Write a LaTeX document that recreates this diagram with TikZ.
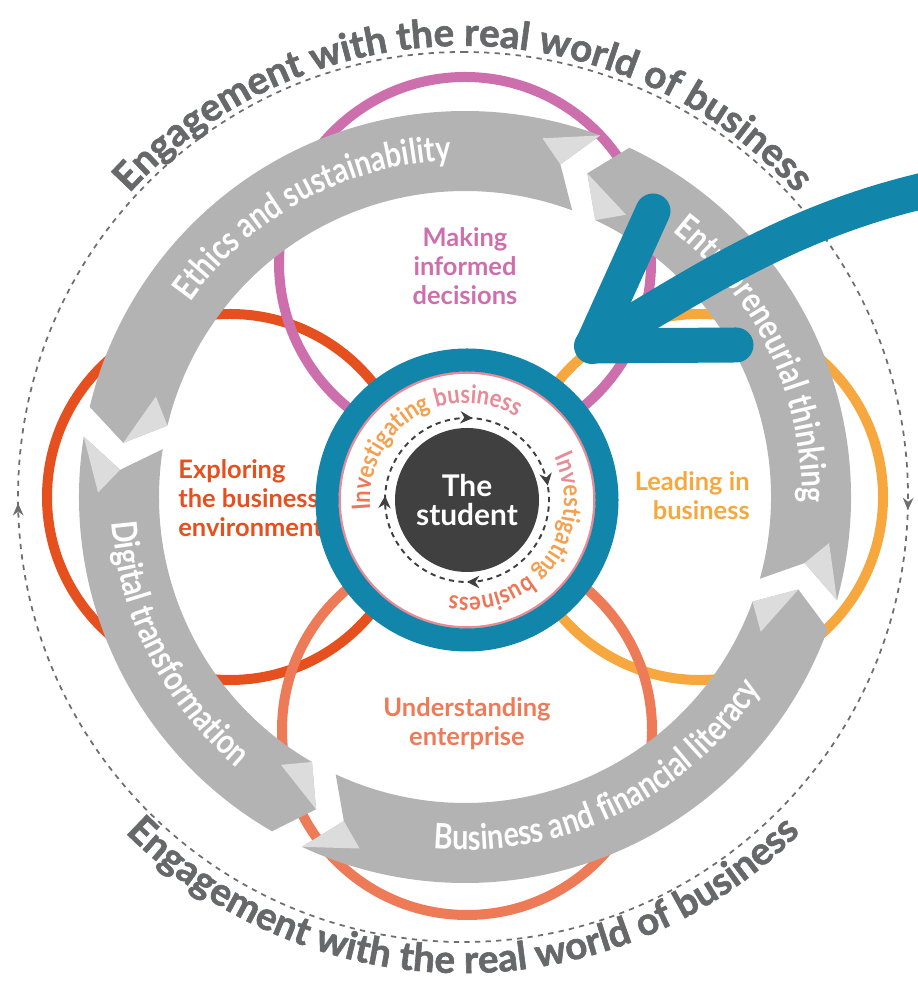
\documentclass[tikz,border=0pt]{standalone}
\usepackage{fontspec}
\setmainfont{Lato}
\newfontfamily\bandfont[FakeStretch=0.82]{Lato}
\newfontfamily\invfamily[FakeStretch=0.86]{Lato}
\newfontfamily\engfamily[FakeBold=1.6]{Lato}
\usetikzlibrary{calc,arrows.meta,decorations.text,decorations.markings}
\definecolor{ringteal}{HTML}{1186AA}
\definecolor{bandgrey}{HTML}{B3B3B3}
\definecolor{foldgrey}{HTML}{DCDCDC}
\definecolor{enggrey}{HTML}{67686A}
\definecolor{dashgrey}{HTML}{6E6E6E}
\definecolor{discgrey}{HTML}{404040}
\definecolor{mkpink}{HTML}{CD6FAD}
\definecolor{exred}{HTML}{E5501E}
\definecolor{ldorange}{HTML}{F6A83F}
\definecolor{unsalmon}{HTML}{EE7B58}
\definecolor{invA}{HTML}{EE7656}
\definecolor{invB}{HTML}{F4A04E}
\definecolor{invC}{HTML}{E98A97}
\newcommand\engfont{\engfamily\bfseries\fontsize{22}{26}\selectfont}
\newcommand\bandlbl{\bandfont\bfseries\fontsize{20}{24}\selectfont}
\newcommand\invfont{\invfamily\bfseries\fontsize{14.5}{17}\selectfont}
\tikzset{
  theme/.style={draw=#1, line width=0.2cm},
  band/.style={fill=bandgrey},
  fold/.style={fill=foldgrey},
  themelabel/.style={font=\bfseries\fontsize{14.5}{16.5}\selectfont, text=#1, inner sep=0pt},
  bandtext/.style={decorate, decoration={text along path, text align=center, text color=white, text={|\bandlbl|#1}}},
  engtext/.style={decorate, decoration={text along path, text align=center, text color=enggrey, text={|\engfont|#1}}},
  invtext/.style={decorate, decoration={text along path, text align=center, text={#1}}},
  outerdash/.style={dashgrey, line width=1pt, dash pattern=on 3pt off 3pt},
  innerdash/.style={discgrey, line width=1.1pt, dash pattern=on 3pt off 2.5pt},
}

\begin{document}
\begin{tikzpicture}[x=0.02cm, y=0.02cm]
    \useasboundingbox (0,0) rectangle (917,982);
    \coordinate (C) at (465,485);
    \coordinate (S) at (467,482);
    \coordinate (D) at (463,485);

    \draw[outerdash, postaction={decorate, decoration={markings,
        mark=at position 0.2547 with {\arrow{Stealth[length=7pt,width=6pt]}},
        mark=at position 0.7478 with {\arrow{Stealth[length=7pt,width=6pt]}}}}]
        (D) ++(90:445) arc[start angle=90, end angle=-270, radius=445];
    \path[engtext={Engagement with the real world of business}]
        (D) ++(160:451) arc[start angle=160, end angle=20, radius=451];
    \path[engtext={Engagement with the real world of business}]
        (D) ++(205:476) arc[start angle=205, end angle=335, radius=476];

    \draw[theme=exred] (230,485) circle[radius=183];
    \draw[theme=ldorange] (700,485) circle[radius=183];
    \draw[theme=mkpink] (465,719) circle[radius=186];
    \draw[theme=unsalmon] (467,252) circle[radius=185];

    \begin{scope}[shift={(C)}]
        \foreach \c/\d in {69.5/166.5, 171/240, 245/340, 344.5/424.8} {
            \fill[band] (\c:386) arc[start angle=\c, end angle=\d, radius=386]
                -- ({\d+4.5}:346) -- (\d:306)
                arc[start angle=\d, end angle=\c, radius=306] -- ({\c+4.5}:346) -- cycle;
            \fill[fold] ({\c+4.5}:346) -- (\c:386) -- ({\c+8.3}:367) -- cycle;
            \fill[fold] ({\d-4.5}:325) -- (\d:306) -- ({\d+4.5}:346) -- cycle;
        }
        \path[bandtext={Ethics and sustainability}] (175:337) arc[start angle=175, end angle=62, radius=337];
        \path[bandtext={Entrepreneurial thinking}] (82:337) arc[start angle=82, end angle=-31, radius=337];
        \path[bandtext={Business and financial literacy}] (-121:353) arc[start angle=-121, end angle=-7, radius=353];
        \path[bandtext={Digital transformation}] (150:354) arc[start angle=150, end angle=264, radius=354];
    \end{scope}

    \node[themelabel=mkpink, align=center] (making) at (465,716) {Making\\informed\\decisions};
    \node[themelabel=exred, align=left, anchor=west] (exploring) at (178,484) {Exploring\\the business\\environment};
    \node[themelabel=ldorange, align=right, anchor=east] (leading) at (750,486) {Leading in\\business};
    \node[themelabel=unsalmon, align=center] (understanding) at (467,258) {Understanding\\enterprise};

    \fill[white] (S) circle[radius=129];
    \draw[invC, line width=1.5] (S) circle[radius=127.5];
    \draw[ringteal, line width=0.46cm] (S) circle[radius=140];

    \path[invtext={|\invfont\color{invA}|Inv|\invfont\color{invB}|estigating |\invfont\color{invC}|business}]
        (S) ++(202.5:97) arc[start angle=202.5, end angle=42.5, radius=97];
    \path[invtext={|\invfont\color{invC}|Inv|\invfont\color{invB}|estigating |\invfont\color{invA}|business}]
        (S) ++(43:97) arc[start angle=43, end angle=-117, radius=97];
    \draw[innerdash, postaction={decorate, decoration={markings,
        mark=at position 0.011 with {\arrow{Stealth[length=7pt,width=7pt]}},
        mark=at position 0.222 with {\arrow{Stealth[length=7pt,width=7pt]}},
        mark=at position 0.5 with {\arrow{Stealth[length=7pt,width=7pt]}},
        mark=at position 0.758 with {\arrow{Stealth[length=7pt,width=7pt]}}}}]
        (S) ++(90:82) arc[start angle=90, end angle=-270, radius=82];
    \fill[discgrey] (S) circle[radius=72];
    \node[font=\bfseries\fontsize{17}{17}\selectfont, text=white, align=center] (student) at (S) {The\\student};

    \draw[ringteal, line width=0.72cm, line cap=round] (922,791) .. controls (780,757) and (690,692) .. (592,636);
    \draw[ringteal, line width=0.7cm, line cap=round, line join=round] (653,771) -- (592,636) -- (736,637);
\end{tikzpicture}
\end{document}
